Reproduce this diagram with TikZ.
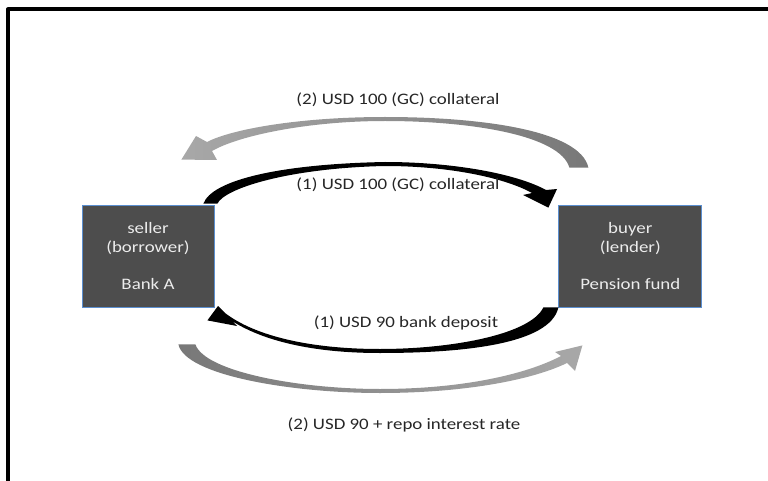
\documentclass[tikz,border=0pt]{standalone}
\usepackage{fontspec}
\setmainfont{Carlito}[FakeStretch=1.18]
\usepackage{tikz}
\usetikzlibrary{positioning, calc}
\definecolor{partycolor}{RGB}{77, 77, 77}
\definecolor{partyborder}{RGB}{91, 143, 208}
\definecolor{partytext}{RGB}{236, 236, 236}
\definecolor{flowtextcolor}{RGB}{38, 38, 38}
\definecolor{flowlight}{RGB}{168, 168, 168}
\definecolor{flowdark}{RGB}{120, 120, 120}
\tikzstyle{party} = [rectangle, minimum width=132pt, minimum height=102pt, inner sep=0pt,
                     text centered, align=center, draw=partyborder, line width=0.8pt,
                     fill=partycolor, text=partytext, font=\fontsize{16}{18.5}\selectfont]
\tikzstyle{flowlabel} = [text=flowtextcolor, font=\fontsize{16}{18.5}\selectfont]
\tikzstyle{firstleg} = [fill=black]
\tikzstyle{secondleg} = [draw=none]

\begin{document}
\begin{tikzpicture}[x=1pt, y=-1pt]
    \useasboundingbox (0,0) rectangle (768,481);
    \draw[line width=4pt, line join=round] (8,485) -- (8,9.5) -- (772,9.5);

    % Parties
    \node[party] (seller) at (148,256) {seller\\(borrower)\\[18.5pt]Bank A};
    \node[party, minimum width=143pt, right=344pt of seller] (buyer) {buyer\\(lender)\\[18.5pt]Pension fund};

    % Start leg
    \fill[firstleg] ($(seller.north east)+(-11,-1)$) .. controls (212,180) and (280,164) .. (385,162)
        .. controls (450,162) and (515,173) .. (546,190) -- (557,189)
        -- ($(buyer.north west)+(-10,3)$) -- (523,195) -- (532,193)
        .. controls (505,178) and (450,166) .. (385,166)
        .. controls (290,168) and (225,188) .. ($(seller.north east)+(3,-1)$) -- cycle;
    \fill[firstleg] ($(buyer.south west)+(-15,0)$) .. controls (530,335) and (450,349) .. (380,349)
        .. controls (310,349) and (255,336) .. (225,313) -- (218,306)
        -- ($(seller.south east)+(-7,13)$) -- (237,326) -- (232,321)
        .. controls (262,340) and (310,353) .. (380,353)
        .. controls (460,353) and (550,345) .. (buyer.south west) -- cycle;

    % Close leg
    \shade[secondleg, left color=flowlight, right color=flowdark]
        ($(buyer.north west)+(30,-37)$) .. controls (580,130) and (480,117) .. (385,117)
        .. controls (300,117) and (232,129) .. (207,142) -- (196,136)
        -- ($(seller.north east)+(-33,-45)$) -- (217,160) -- (212,151)
        .. controls (240,135) and (310,121) .. (385,121)
        .. controls (470,121) and (560,135) .. ($(buyer.north west)+(11,-37)$) -- cycle;
    \shade[secondleg, left color=flowdark, right color=flowlight]
        ($(seller.south east)+(-36,37)$) .. controls (185,375) and (290,393) .. (380,393)
        .. controls (460,393) and (530,381) .. (567,363) -- (575,371)
        -- ($(buyer.south west)+(24,38)$) -- (555,352) -- (561,356)
        .. controls (525,375) and (460,389) .. (380,389)
        .. controls (300,389) and (205,372) .. ($(seller.south east)+(-19,37)$) -- cycle;

    % Labels
    \node[flowlabel] (collclose) at (398,100) {(2) USD 100 (GC) collateral};
    \node[flowlabel] (collstart) at (398,185) {(1) USD 100 (GC) collateral};
    \node[flowlabel] (cashstart) at (406,323) {(1) USD 90 bank deposit};
    \node[flowlabel] (cashclose) at (404,425) {(2) USD 90 + repo interest rate};
\end{tikzpicture}
\end{document}
